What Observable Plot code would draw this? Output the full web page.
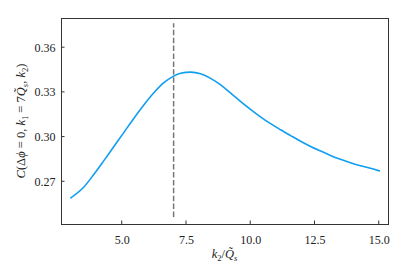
<!DOCTYPE html>
<html><head><meta charset="utf-8">
<script src="https://cdn.jsdelivr.net/npm/d3@7"></script>
<script src="https://cdn.jsdelivr.net/npm/@observablehq/plot@0.6"></script>
<style>body{margin:0;background:#fff}</style>
</head><body><div id="chart"></div>
<script>
// k2 / Q_s values and the correlation C
const k2 = [3.0, 3.51, 3.9, 4.28, 4.67, 5.06, 5.45, 5.84, 6.23, 6.62, 6.95, 7.27, 7.66, 8.05, 8.44, 8.83, 9.21, 9.6, 9.99, 10.38, 10.77, 11.16, 11.55, 11.94, 12.33, 12.72, 13.1, 13.49, 13.88, 14.27, 14.66, 15.0];
const corr = [0.2592, 0.2665, 0.2750, 0.2840, 0.2935, 0.3030, 0.3125, 0.3215, 0.3297, 0.3365, 0.3404, 0.3428, 0.3436, 0.3425, 0.3394, 0.3350, 0.3296, 0.3240, 0.3186, 0.3136, 0.3090, 0.3049, 0.3010, 0.2972, 0.2937, 0.2906, 0.2877, 0.2851, 0.2828, 0.2808, 0.2790, 0.2773];
const xTicks = [5, 7.5, 10, 12.5, 15];
const yTicks = [0.27, 0.30, 0.33, 0.36];
const xDomain = [2.638, 15.36];
const yDomain = [0.2413, 0.3796];
const markerK = [7];
const markerY1 = 0.246, markerY2 = 0.376;

const data = k2.map((k, i) => ({k, c: corr[i]}));
const font = "'Liberation Serif', 'DejaVu Serif', serif";

const plot = Plot.plot({
  width: 407, height: 271,
  marginLeft: 61, marginRight: 19, marginTop: 18, marginBottom: 47,
  style: {fontFamily: font, fontSize: "12px", color: "#222", background: "#fff"},
  x: {domain: xDomain, ticks: xTicks, tickFormat: d3.format(".1f"), tickSize: 0, tickPadding: 11, label: null},
  y: {domain: yDomain, ticks: yTicks, tickFormat: d3.format(".2f"), tickSize: 0, tickPadding: 6, label: null},
  marks: [
    Plot.ruleX(markerK, {y1: markerY1, y2: markerY2, stroke: "#777", strokeWidth: 1.5, strokeDasharray: "5.5,2.4"}),
    Plot.line(data, {x: "k", y: "c", stroke: "#0f9ef0", strokeWidth: 1.6, curve: "monotone-x"}),
    Plot.frame({stroke: "#333", strokeWidth: 1})
  ]
});
document.getElementById("chart").appendChild(plot);

const svg = d3.select(plot);
const sx = plot.scale("x"), sy = plot.scale("y");
const x0 = sx.apply(xDomain[0]), y0 = sy.apply(yDomain[0]);
// inward ticks
const g = svg.append("g").attr("stroke", "#333").attr("stroke-width", 1);
xTicks.forEach(v => { const x = sx.apply(v); g.append("line").attr("x1", x).attr("x2", x).attr("y1", y0).attr("y2", y0 - 3.5); });
yTicks.forEach(v => { const y = sy.apply(v); g.append("line").attr("x1", x0).attr("x2", x0 + 3.5).attr("y1", y).attr("y2", y); });

function addMath(t, parts) {
  parts.forEach(p => {
    const ts = t.append("tspan").text(p.t);
    if (p.i) ts.attr("font-style", "italic");
    if (p.sub) ts.attr("font-size", "8.5px").attr("dy", 3);
    if (p.back) ts.attr("dy", -3);
  });
}
// x label
const xl = svg.append("text").attr("x", (sx.apply(xDomain[0]) + sx.apply(xDomain[1])) / 2).attr("y", 258)
  .attr("text-anchor", "middle").attr("font-family", font).attr("font-size", "12.5px").attr("fill", "#222");
addMath(xl, [{t: "k", i: 1}, {t: "2", sub: 1}, {t: "/", back: 1}, {t: "Q\u0303", i: 1}, {t: "s", i: 1, sub: 1}]);
// y label
const yc = (sy.apply(yDomain[0]) + sy.apply(yDomain[1])) / 2;
const yl = svg.append("text").attr("transform", `translate(25,${yc}) rotate(-90)`)
  .attr("text-anchor", "middle").attr("font-family", font).attr("font-size", "12.5px").attr("fill", "#222");
addMath(yl, [{t: "C", i: 1}, {t: "(Δ"}, {t: "ϕ", i: 1}, {t: " = 0, "}, {t: "k", i: 1}, {t: "1", sub: 1},
  {t: " = 7", back: 1}, {t: "Q\u0303", i: 1}, {t: "s", i: 1, sub: 1}, {t: ", ", back: 1}, {t: "k", i: 1}, {t: "2", sub: 1}, {t: ")", back: 1}]);
</script>
</body></html>
